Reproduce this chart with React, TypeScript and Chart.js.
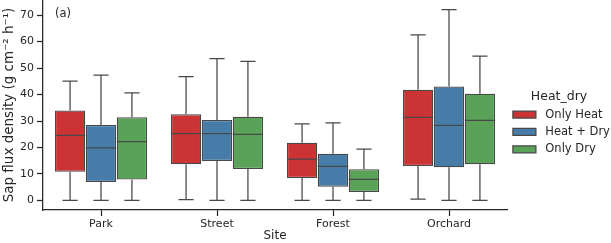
import React, { useEffect, useRef } from 'react';
import { Chart, registerables } from 'chart.js';

Chart.register(...registerables);

// ---- data ----
const sites = ['Park', 'Street', 'Forest', 'Orchard'];
const groups = ['Only Heat', 'Heat + Dry', 'Only Dry'];
const yTicks = [0, 10, 20, 30, 40, 50, 60, 70];

const onlyHeatLow = [0, 0.3, 0, 0.5];
const onlyHeatQ1 = [10.8, 13.7, 8.5, 13.0];
const onlyHeatMed = [24.6, 25.2, 15.6, 31.4];
const onlyHeatQ3 = [34.0, 32.6, 21.8, 41.8];
const onlyHeatHigh = [45.1, 46.8, 28.9, 62.5];

const heatDryLow = [0, 0, 0, 0];
const heatDryQ1 = [7.0, 14.9, 5.2, 12.5];
const heatDryMed = [19.9, 25.2, 12.9, 28.4];
const heatDryQ3 = [28.5, 30.4, 17.6, 43.0];
const heatDryHigh = [47.3, 53.6, 29.3, 72.1];

const onlyDryLow = [0, 0, 0, 0];
const onlyDryQ1 = [7.9, 11.9, 3.2, 13.7];
const onlyDryMed = [22.2, 25.0, 8.0, 30.2];
const onlyDryQ3 = [31.4, 31.6, 11.8, 40.3];
const onlyDryHigh = [40.6, 52.5, 19.4, 54.5];

const stats = [
  { low: onlyHeatLow, q1: onlyHeatQ1, med: onlyHeatMed, q3: onlyHeatQ3, high: onlyHeatHigh },
  { low: heatDryLow, q1: heatDryQ1, med: heatDryMed, q3: heatDryQ3, high: heatDryHigh },
  { low: onlyDryLow, q1: onlyDryQ1, med: onlyDryMed, q3: onlyDryQ3, high: onlyDryHigh },
];

// ---- styles ----
const colors = ['#cb3335', '#477ca8', '#59a257'];
const lineColor = '#484848';
const textColor = '#262626';
const FONT = 'DejaVu Sans';
const LW = 1.25;

const boxPlugin = {
  id: 'boxWhiskers',
  afterDatasetsDraw(chart: any) {
    const ctx = chart.ctx;
    const ys = chart.scales.y;
    ctx.save();
    ctx.strokeStyle = lineColor;
    ctx.lineWidth = LW;
    ctx.lineCap = 'butt';
    stats.forEach((s, d) => {
      const meta = chart.getDatasetMeta(d);
      meta.data.forEach((bar: any, i: number) => {
        const { x, width } = bar.getProps(['x', 'width'], true);
        const half = width / 2;
        const cap = width / 4;
        const yLow = ys.getPixelForValue(s.low[i]);
        const yQ1 = ys.getPixelForValue(s.q1[i]);
        const yMed = ys.getPixelForValue(s.med[i]);
        const yQ3 = ys.getPixelForValue(s.q3[i]);
        const yHigh = ys.getPixelForValue(s.high[i]);
        ctx.beginPath();
        ctx.moveTo(x, yQ1);
        ctx.lineTo(x, yLow);
        ctx.moveTo(x - cap, yLow);
        ctx.lineTo(x + cap, yLow);
        ctx.moveTo(x, yQ3);
        ctx.lineTo(x, yHigh);
        ctx.moveTo(x - cap, yHigh);
        ctx.lineTo(x + cap, yHigh);
        ctx.moveTo(x - half, yMed);
        ctx.lineTo(x + half, yMed);
        ctx.stroke();
      });
    });
    // panel label
    const area = chart.chartArea;
    ctx.fillStyle = textColor;
    ctx.font = `11.5px "${FONT}"`;
    ctx.textBaseline = 'middle';
    ctx.textAlign = 'left';
    ctx.fillText('(a)', area.left + 12, area.top + 14);
    ctx.restore();
  },
};

export default function App() {
  const ref = useRef<HTMLCanvasElement>(null);

  useEffect(() => {
    document.body.style.margin = '0';
    const canvas = ref.current;
    if (!canvas) return;
    const chart = new Chart(canvas, {
      type: 'bar',
      data: {
        labels: sites,
        datasets: groups.map((g, d) => ({
          label: g,
          data: sites.map((_, i) => [stats[d].q1[i], stats[d].q3[i]]),
          backgroundColor: colors[d],
          borderColor: lineColor,
          borderWidth: LW,
          borderSkipped: false,
          categoryPercentage: 0.8,
          barPercentage: 0.98,
        })) as any,
      },
      options: {
        responsive: false,
        animation: false,
        devicePixelRatio: 1,
        layout: { padding: 0 },
        plugins: {
          tooltip: { enabled: false },
          legend: {
            position: 'right',
            align: 'center',
            maxWidth: 104,
            title: {
              display: true,
              text: 'Heat_dry',
              color: textColor,
              font: { family: FONT, size: 12.5, lineHeight: 1.0 },
              padding: { top: 8.4, bottom: 0 },
            },
            labels: {
              boxWidth: 23,
              boxHeight: 7,
              color: textColor,
              font: { family: FONT, size: 11.5 },
              padding: 5.9,
              generateLabels(chart: any) {
                const items = Chart.defaults.plugins.legend.labels.generateLabels(chart);
                return items.map((it: any) => ({ ...it, text: ' ' + it.text }));
              },
            },
          },
        },
        scales: {
          x: {
            grid: {
              display: true,
              offset: false,
              drawOnChartArea: false,
              color: textColor,
              tickLength: 6,
              tickWidth: LW,
            },
            border: { display: true, color: textColor, width: LW },
            ticks: { color: textColor, font: { family: FONT, size: 11 }, padding: 1.5 },
            title: {
              display: true,
              text: 'Site',
              color: textColor,
              font: { family: FONT, size: 12 },
              padding: { top: 0, bottom: 0 },
            },
            afterFit(s: any) {
              s.height = 33;
              s.paddingLeft = 0;
              s.paddingRight = 0;
            },
          },
          y: {
            min: -3.6,
            max: 75.7,
            afterBuildTicks(s: any) {
              s.ticks = yTicks.map((v) => ({ value: v }));
            },
            grid: {
              display: true,
              drawOnChartArea: false,
              color: textColor,
              tickLength: 6,
              tickWidth: LW,
            },
            border: { display: true, color: textColor, width: LW },
            ticks: { color: textColor, font: { family: FONT, size: 11 }, padding: 3 },
            title: {
              display: true,
              text: 'Sap flux density (g cm⁻² h⁻¹)',
              color: textColor,
              font: { family: FONT, size: 13.5 },
              padding: { top: 1.5, bottom: 0 },
            },
            afterFit(s: any) {
              s.width = 43;
              s.paddingTop = 0;
              s.paddingBottom = 0;
            },
          },
        },
      },
      plugins: [boxPlugin],
    } as any);
    return () => chart.destroy();
  }, []);

  return (
    <div style={{ width: 611, height: 243 }}>
      <canvas ref={ref} width={611} height={243} style={{ display: 'block' }} />
    </div>
  );
}
